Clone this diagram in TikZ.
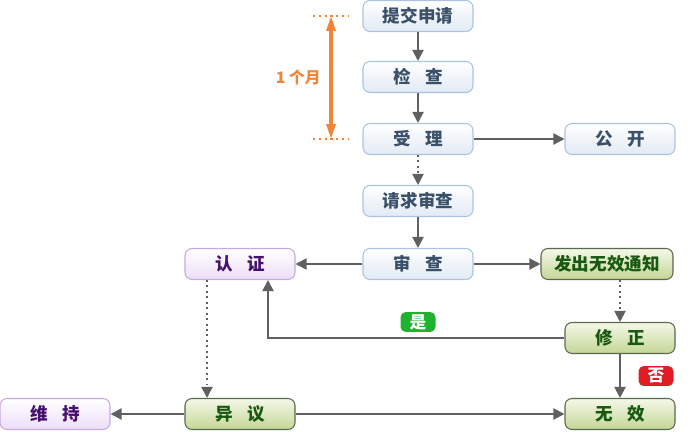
\documentclass[tikz,border=0pt]{standalone}
\usepackage{fontspec}
\setmainfont{Noto Sans CJK SC}
\usepackage{xcolor}
\usepackage{tikz}
\usetikzlibrary{arrows.meta, positioning, calc}
\definecolor{boxline}{RGB}{170,196,224}
\definecolor{boxtop}{RGB}{255,255,255}
\definecolor{boxbot}{RGB}{226,234,244}
\definecolor{boxtext}{RGB}{58,80,104}
\definecolor{violine}{RGB}{200,168,226}
\definecolor{viobot}{RGB}{236,222,248}
\definecolor{viotext}{RGB}{70,16,110}
\definecolor{grnline}{RGB}{90,104,80}
\definecolor{grntop}{RGB}{244,248,232}
\definecolor{grnbot}{RGB}{196,214,150}
\definecolor{grntext}{RGB}{24,88,16}
\definecolor{flowgray}{RGB}{96,96,96}
\definecolor{monthorange}{RGB}{240,132,56}
\definecolor{yesgreen}{RGB}{30,178,48}
\definecolor{nored}{RGB}{226,28,36}
\newcommand{\gap}{\hspace{0.8em}}

\begin{document}
\begin{tikzpicture}[
  x=0.02cm, y=-0.02cm,
  step box/.style={rectangle, rounded corners=4pt, draw=boxline, top color=boxtop,
                   bottom color=boxbot, minimum width=2.2cm, minimum height=0.62cm,
                   font=\bfseries\fontsize{10}{12}\selectfont, text=boxtext, line width=0.6pt},
  vio box/.style={step box, draw=violine, bottom color=viobot, text=viotext},
  grn box/.style={step box, draw=grnline, top color=grntop, bottom color=grnbot, text=grntext},
  badge/.style={rectangle, rounded corners=3pt, text=white, font=\bfseries\fontsize{9.5}{10}\selectfont,
                minimum width=0.7cm, minimum height=0.4cm, inner sep=0pt},
  farr/.style={-{Triangle[length=2.2mm,width=2.2mm]}, line width=1.1pt, color=flowgray},
  darr/.style={-{Triangle[length=2.2mm,width=2.2mm]}, dotted, line width=1.1pt, color=flowgray},
  marr/.style={{Triangle[length=3mm,width=1.8mm]}-{Triangle[length=3mm,width=1.8mm]},
               line width=1.8pt, color=monthorange}
]
\useasboundingbox (0,0) rectangle (700,432);

% ── Main column ──────────────────────────────────────────────────────────
\node[step box] (submit)  at (418, 16)  {提交申请};
\node[step box] (check)   at (418, 77)  {检\gap 查};
\node[step box] (accept)  at (418, 139) {受\gap 理};
\node[step box] (publish) at (620, 139) {公\gap 开};
\node[step box] (request) at (418, 201) {请求审查};
\node[step box] (exam)    at (418, 264) {审\gap 查};

% ── Side branches ────────────────────────────────────────────────────────
\node[vio box] (certify) at (240, 264) {认\gap 证};
\node[grn box, minimum width=2.64cm] (notice) at (607, 264) {发出无效通知};
\node[grn box] (amend)   at (620, 338) {修\gap 正};
\node[grn box] (invalid) at (620, 414) {无\gap 效};
\node[grn box] (object)  at (240, 414) {异\gap 议};
\node[vio box] (keep)    at (55, 414)  {维\gap 持};

% ── One-month bracket ────────────────────────────────────────────────────
\coordinate (mtop) at (331, 16);
\coordinate (mbot) at (331, 139);
\draw[monthorange, dotted, line width=1.3pt] (313, 16) -- (349, 16);
\draw[monthorange, dotted, line width=1.3pt] (313, 139) -- (349, 139);
\draw[marr] (mtop) -- (mbot);
\node[text=monthorange, font=\bfseries\fontsize{9}{10}\selectfont, anchor=east] (month)
      at (327, 77) {1 个月};

% ── Arrows ───────────────────────────────────────────────────────────────
\draw[farr] (submit)  -- (check);
\draw[farr] (check)   -- (accept);
\draw[farr] (accept)  -- (publish);
\draw[darr] (accept)  -- (request);
\draw[farr] (request) -- (exam);
\draw[farr] (exam)    -- (certify);
\draw[farr] (exam)    -- (notice);
\draw[darr] (notice.south -| amend) -- (amend);
\draw[farr] (amend.west) -- (268, 338) -- (certify.south -| 268, 0);
\draw[farr] (amend)   -- (invalid);
\draw[darr] (certify.south -| 207, 0) -- (object.north -| 207, 0);
\draw[farr] (object)  -- (keep);
\draw[farr] (object)  -- (invalid);

% ── Yes / no badges ──────────────────────────────────────────────────────
\node[badge, fill=yesgreen] (yes) at (418, 322) {是};
\node[badge, fill=nored]    (no)  at (656, 376) {否};

\end{tikzpicture}
\end{document}
